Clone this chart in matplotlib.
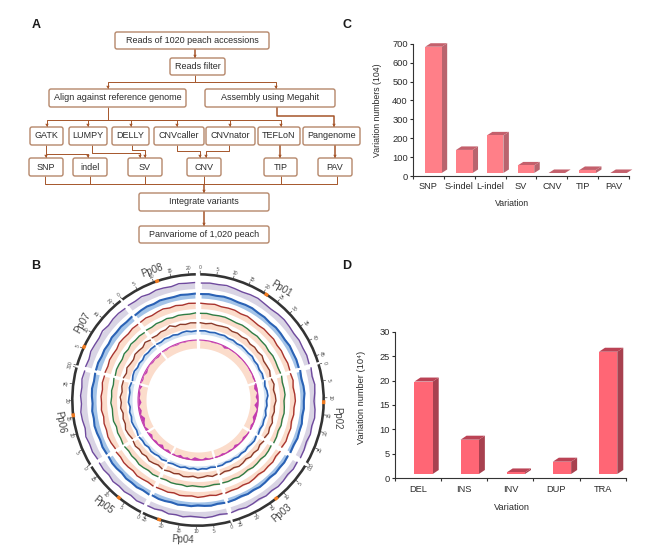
"""Panvariome figure: workflow (A), circos rings (B), variant counts (C, D)."""
import numpy as np
import matplotlib
matplotlib.use('Agg')
import matplotlib.pyplot as plt
from matplotlib.patches import FancyBboxPatch, Polygon

plt.rcParams['font.family'] = ['Liberation Sans', 'DejaVu Sans']
W, H = 650, 559
TXT = '#2b2b2b'

# panel C
C_CATS = ['SNP', 'S-indel', 'L-indel', 'SV', 'CNV', 'TIP', 'PAV']
C_VALS = [684, 138, 215, 56, 16, 32, 16]
C_TICKS = [0, 100, 200, 300, 400, 500, 600, 700]

# panel D
D_CATS = ['DEL', 'INS', 'INV', 'DUP', 'TRA']
D_VALS = [19.8, 7.9, 1.2, 3.4, 25.9]
D_TICKS = [0, 5, 10, 15, 20, 25, 30]

# panel B: chromosomes, sector span in degrees clockwise from north, centromere
CHR_NAMES = ['Pp01', 'Pp02', 'Pp03', 'Pp04', 'Pp05', 'Pp06', 'Pp07', 'Pp08']
CHR_MB = [47, 30, 27, 26, 18, 30, 22, 22]
CHR_START = [1, 73.5, 121.5, 165, 207, 239, 286, 323]
CHR_END = [72.5, 120, 164, 206, 238, 285, 322, 359]
CHR_CENTRO = [33, 91, 141.5, 198, 219, 263, 295, 341]

# panel B tracks: deviation from ring radius, one list per chromosome
PURPLE = [
    [0, .5, .2, 1, .3, -.3, .6, 1, 0, -.5, .4, .8, .2, -.4, .5, 0, .6, -.2],
    [.5, -.5, .8, 0, -1, .4, 1, -.3, .5, -.8, .2, .6],
    [0, .7, -.4, .5, 1, -.2, .6, -.6, .3, .9, -.3, .4],
    [.4, -.6, .5, 1, 0, -.5, .8, -.2, .6, -.9, .3, .1],
    [.3, 1, -.4, .6, -.2, .8, -.6, .4, 0],
    [-.5, .6, 0, 1, -.7, .3, .8, -.4, .5, -.2, .9, 0],
    [.2, -.6, .7, .1, -.3, .9, -.5, .4, .6, 0],
    [.5, 0, .8, -.4, .6, .2, -.5, .9, .3, .5],
]
BLUE_A = [
    [0, .4, -.2, .5, .2, -.4, .3, .6, -.1, .2, -.5, .4, .1, -.3, .5, 0, .3, -.2],
    [.3, -.5, .4, .7, -.2, .2, -.6, .5, 0, .6, -.3, .2],
    [-.2, .5, 0, .6, -.4, .3, .7, -.3, .4, -.5, .2, .4],
    [.2, -.4, .5, .1, -.6, .4, 0, .6, -.3, .3, .5, -.2],
    [.4, -.3, .6, 0, .5, -.5, .3, .6, -.1],
    [0, .5, -.4, .3, .7, -.2, .4, -.5, .2, .6, -.3, .2],
    [.3, .6, -.3, .2, -.5, .5, 0, .4, -.2, .3],
    [-.4, .2, .5, -.3, .6, .1, -.2, .5, 0, .4],
]
RED = [
    [.3, 0, .6, -.4, .2, .5, -.3, .7, 0, -.5, .4, .1, .6, -.4, .3, -.2, .5, 0],
    [-.3, .6, -.6, .4, .9, -.2, .3, -.7, .5, 0, .7, -.4],
    [.4, -.5, .7, 0, .5, -.7, .2, .8, -.3, .4, -.1, .6],
    [0, .6, -.5, .3, .9, -.4, .2, .6, -.6, .5, 0, .3],
    [.5, -.4, .2, .8, -.5, .3, .6, -.3, .4],
    [-.6, .4, .8, -.2, .3, -.7, .6, 0, .5, -.4, .7, .1],
    [.4, -.3, .6, 0, -.6, .7, .2, -.4, .5, .1],
    [.2, .7, -.3, .4, 1, -.2, .5, -.4, .6, .3],
]
GREEN = [
    [.2, .5, -.2, .3, .6, 0, -.4, .4, .2, -.3, .5, 0, .3, -.5, .4, .1, -.3, .2],
    [.4, -.4, .3, .7, -.5, .1, .6, -.2, .4, -.6, .3, .5],
    [-.3, .4, .7, -.4, .2, .5, -.6, .3, .8, -.2, .4, 0],
    [.3, -.5, .2, .6, 0, -.6, .7, -.2, .3, .5, -.4, .2],
    [0, .6, -.4, .4, .8, -.3, .2, -.5, .4],
    [.5, -.2, .3, -.7, .6, .1, -.4, .7, -.1, .4, -.5, .3],
    [-.2, .5, .1, -.5, .6, -.3, .8, 0, .3, -.4],
    [.3, -.3, .5, 0, .7, -.4, .4, .1, -.2, .6],
]
BROWN = [
    [.3, -.3, .8, 0, .5, 1, -.4, .6, -.2, 1, -.6, .4, -.3, .9, -.7, -.2, .5, -1],
    [-.6, .7, -.9, .4, 1, -.5, .2, -1, .8, -.3, .9, -.5],
    [.5, -.7, .9, -.3, .6, -1, .4, 1, -.5, .2, -.8, .6],
    [-.4, .8, -.7, .3, 1, -.6, .5, .9, -.8, .4, -.2, .7],
    [.6, -.8, .3, 1, -.6, .5, -.4, .8, -.2],
    [-.8, .5, 1.2, -.5, .2, -1, .8, -.3, .9, -.7, .4, .1],
    [.7, -.6, 1, -.3, -.9, .8, .1, -.7, 1.2, -.4],
    [.2, -.5, .6, .3, 2.4, -.2, .7, -.4, .5, .2],
]
BLUE_B = [
    [.2, .5, -.3, .4, 0, .6, -.4, .3, -.6, .5, .1, -.3, .6, -.5, .2, -.7, .4, -.2],
    [.4, -.7, .6, 1, -.5, .2, -.8, .7, -.2, .5, -.6, .3],
    [-.5, .6, .1, -.6, .5, -.3, .7, -.4, .3, -.7, .5, .2],
    [.3, -.6, .5, -.2, .8, -.5, .4, -.7, .6, .1, -.4, .5],
    [-.3, .7, -.5, .3, .6, -.7, .4, -.2, .5],
    [.5, -.6, .2, .8, -.4, .4, -.8, .6, 0, -.5, .7, -.2],
    [-.6, .5, .9, -.4, .2, -.7, .6, -.2, .4, .1],
    [.3, -.4, .6, -.1, .5, -.6, .4, .8, -.3, .2],
]
MAGENTA = [
    [0, -.3, .1, -.7, -.2, 0, -2, -.2, -.5, .1, -.8, -.3, -.6, 0, -1, -.4, -1.4, -.3],
    [-2, -3.2, -.8, -2.8, -1, -4, -.6, -2.2, -3.4, -.9, -2.4, -.8],
    [-.4, -1.5, -2.4, -.5, -1, -2.8, -.6, -1.8, -.3, -2.2, -.9, -1.4],
    [-1.2, -.5, -2.6, -.8, -2, -3.2, -.6, -2.2, -1, -2.8, -.7, -1.6],
    [-.7, -2.4, -.5, -3.2, -1, -1.8, -.4, -2.6, -.8],
    [-2.6, -.7, -1.8, -3.8, -.9, -2.4, -.5, -3, -1.1, -1.6, -.5, -2.2],
    [-.3, -1.2, -.3, -1.8, -.6, -.2, -1.1, -.5, -1.4, -.3],
    [-.2, -.7, 0, -.5, -1, -.1, -.6, 0, -.3, -.1],
]
# values, ring radius, band depth, line width, line colour, band colour
TRACKS = [
    (PURPLE, 117, 5.5, 1.0, '#6f4a9e', '#d9d4e4'),
    (BLUE_A, 106, 4, 1.5, '#2a62b5', '#a4c4e8'),
    (RED, 96.5, 5, 1.0, '#a9342e', '#fbdccb'),
    (GREEN, 86.5, 5, 1.0, '#2f7d45', '#fbdccb'),
    (BROWN, 77, 5, 1.0, '#8a3a2a', '#fbdccb'),
    (BLUE_B, 69, 3, 1.2, '#2a62b5', '#cfe0f2'),
    (MAGENTA, 60, 8, 0.8, '#c23cb0', '#fbdccb'),
]
CHR_LABEL_POS = [(281, 289, -32), (337, 418, -90), (282, 513, 40), (183, 540, -3),
                 (103, 505, -38), (60, 422, -80), (83, 323, 60), (152, 270, 20)]

# panel A
LINE = '#a5552a'
BOXES = [
    ('Reads of 1020 peach accessions', 115, 269, 32, 49),
    ('Reads filter', 170, 225, 58, 75),
    ('Align against reference genome', 49, 186, 89, 107),
    ('Assembly using Megahit', 205, 335, 89, 107),
    ('GATK', 30, 63, 127, 145), ('LUMPY', 69, 107, 127, 145),
    ('DELLY', 112, 149, 127, 145), ('CNVcaller', 154, 204, 127, 145),
    ('CNVnator', 206, 255, 127, 145), ('TEFLoN', 258, 300, 127, 145),
    ('Pangenome', 303, 360, 127, 145),
    ('SNP', 29, 63, 158, 176), ('indel', 73, 107, 158, 176),
    ('SV', 128, 162, 158, 176), ('CNV', 187, 221, 158, 176),
    ('TIP', 264, 297, 158, 176), ('PAV', 318, 352, 158, 176),
    ('Integrate variants', 139, 269, 193, 211),
    ('Panvariome of 1,020 peach', 139, 269, 226, 243),
]
PATHS = [
    [(108, 107), (108, 120), (47, 120), (47, 127)], [(108, 120), (88, 120), (88, 127)],
    [(108, 120), (131, 120), (131, 127)], [(108, 120), (177, 120), (177, 127)],
    [(108, 120), (230, 120), (230, 127)], [(108, 120), (281, 120), (281, 127)],
    [(195, 75), (195, 82), (108, 82), (108, 89)], [(195, 82), (276, 82), (276, 89)],
    [(46, 145), (46, 158)], [(46, 154), (88, 154), (88, 158)],
    [(92, 145), (92, 153), (140, 153), (140, 158)], [(132, 145), (132, 150), (145, 150), (145, 158)],
    [(177, 145), (177, 151), (200, 151), (200, 158)], [(229, 145), (229, 151), (206, 151), (206, 158)],
]
THICK_PATHS = [
    [(195, 49), (195, 58)], [(277, 107), (277, 116), (334, 116), (334, 127)],
    [(280, 145), (280, 158)], [(335, 145), (335, 158)],
    [(204, 184), (204, 193)], [(204, 211), (204, 226)],
]
BUS = [[(45, 176), (45, 184), (337, 184), (337, 176)], [(90, 176), (90, 184)],
       [(145, 176), (145, 184)], [(204, 176), (204, 184)], [(281, 176), (281, 184)]]


def px_axes(fig, left, right, top, bottom, **kw):
    return fig.add_axes([left / W, 1 - bottom / H, (right - left) / W, (bottom - top) / H], **kw)


def draw_path(ax, pts, lw, arrow=True):
    xs, ys = zip(*pts)
    ax.plot(xs, ys, color=LINE, lw=lw, solid_capstyle='butt', zorder=1)
    if arrow:
        x, y = pts[-1]
        ax.add_patch(Polygon([(x - 1.7, y - 3.2), (x + 1.7, y - 3.2), (x, y)], fc=LINE, ec='none', zorder=1))


def panel_a(ax):
    for label, x0, x1, y0, y1 in BOXES:
        ax.add_patch(FancyBboxPatch((x0 + 2, y0 + 2), x1 - x0 - 4, y1 - y0 - 4, boxstyle='round,pad=2,rounding_size=2',
                                    fc='white', ec='#b5876a', lw=1.0, zorder=2))
        ax.text((x0 + x1) / 2, (y0 + y1) / 2, label, ha='center', va='center', fontsize=6.5, color=TXT, zorder=3)
    for p in PATHS:
        draw_path(ax, p, 0.7)
    for p in THICK_PATHS:
        draw_path(ax, p, 1.1)
    for p in BUS:
        draw_path(ax, p, 0.7, arrow=False)


def panel_b(fig, bg):
    # polar axes in pixel radius, centred on the rings
    cx, cy, rmax = 198, 400, 140
    ax = px_axes(fig, cx - rmax, cx + rmax, cy - rmax, cy + rmax, projection='polar')
    ax.set_theta_zero_location('N')
    ax.set_theta_direction(-1)
    ax.set_rlim(0, rmax)
    ax.axis('off')
    ax.patch.set_alpha(0)

    for i, name in enumerate(CHR_NAMES):
        t0, t1 = CHR_START[i], CHR_END[i]
        th0, th1 = np.radians([t0, t1])
        ax.bar((th0 + th1) / 2, 2.6, width=th1 - th0, bottom=124.4, color='#333333', lw=0)
        c = np.radians(CHR_CENTRO[i])
        ax.bar(c, 3.4, width=np.radians(1.8), bottom=124, color='#f07a20', lw=0, zorder=3)

        for mb in range(0, CHR_MB[i] + 1, 5):
            t = t0 + (t1 - t0) * mb / CHR_MB[i]
            ax.plot(np.radians([t, t]), [127, 129], color='#444444', lw=0.5)
            ax.text(np.radians(t), 132, str(mb), fontsize=3.6, color='#4a4a4a', rotation=-t if t < 90 or t > 270 else 180 - t,
                    ha='center', va='center', rotation_mode='anchor')

        x, y, rot = CHR_LABEL_POS[i]
        bg.text(x, y, name, fontsize=7, color='#444444', ha='center', va='center', rotation=rot)

        for vals, r0, band, lw, col, shade in TRACKS:
            v = np.asarray(vals[i], dtype=float)
            th = np.radians(np.linspace(t0 + 0.7, t1 - 0.7, len(v)))
            ax.fill_between(th, r0 - band, r0 + 0.4, color=shade, lw=0, zorder=1)
            if vals is MAGENTA:
                ax.fill_between(th, r0, r0 + v, color=col, lw=0, zorder=2)
                ax.plot(th, r0 + np.zeros_like(v), color=col, lw=lw, zorder=2)
            else:
                ax.plot(th, r0 + v, color=col, lw=lw, zorder=2)


def bars_3d(ax, vals, width, depth, rise, lift, shift, px_per_x, px_per_y, front, side, top):
    dx, dy = depth / px_per_x, rise / px_per_y
    sh, w, base = shift / px_per_x, width / px_per_x, lift / px_per_y
    centres = np.arange(len(vals)) + 0.5 + sh
    heights = np.maximum(np.asarray(vals, dtype=float) - base, 0)
    ax.bar(centres, heights, bottom=base, width=w, color=front, lw=0, zorder=3)
    for c, v in zip(centres, vals):
        x0, x1 = c - w / 2, c + w / 2
        v = max(v, base)
        ax.fill([x1, x1 + dx, x1 + dx, x1], [base, base + dy, v + dy, v], color=side, lw=0, zorder=2, clip_on=False)
        ax.fill([x0, x0 + dx, x1 + dx, x1], [v, v + dy, v + dy, v], color=top, lw=0, zorder=2, clip_on=False)


def bar_panel(fig, box, cats, vals, ticks, bar_kw):
    left, right, top, bottom = box
    ax = px_axes(fig, left, right, top, bottom)
    ax.patch.set_alpha(0)
    n = len(cats)
    ax.set_xlim(0, n)
    ax.set_ylim(0, ticks[-1])
    bars_3d(ax, vals, px_per_x=(right - left) / n, px_per_y=(bottom - top) / ticks[-1], **bar_kw)
    ax.set_yticks(ticks)
    ax.set_xticks(range(n + 1))
    ax.set_xticklabels([])
    ax.set_xticks(np.arange(n) + 0.5, cats, minor=True)
    ax.tick_params(axis='x', which='minor', length=0, labelsize=6.7, pad=4.5, colors=TXT)
    ax.tick_params(axis='x', which='major', length=2.2, width=0.8, color='#333333')
    ax.tick_params(axis='y', length=2.2, width=0.8, labelsize=6.7, pad=1.5, colors=TXT)
    for s in ('top', 'right'):
        ax.spines[s].set_visible(False)
    for s in ('left', 'bottom'):
        ax.spines[s].set_linewidth(0.8)
        ax.spines[s].set_color('#333333')
    return ax


def main():
    fig = plt.figure(figsize=(W / 100, H / 100), dpi=100)
    bg = fig.add_axes([0, 0, 1, 1])
    bg.set_xlim(0, W)
    bg.set_ylim(H, 0)
    bg.axis('off')

    panel_a(bg)
    panel_b(fig, bg)

    bar_panel(fig, (413, 629, 43.7, 176), C_CATS, C_VALS, C_TICKS,
              dict(width=16.5, depth=5.5, rise=3.5, lift=3, shift=5, front='#ff7f88', side='#b9646e', top='#c4606c'))
    bar_panel(fig, (395, 625.7, 331.7, 478.3), D_CATS, D_VALS, D_TICKS,
              dict(width=18.3, depth=6, rise=4, lift=4.3, shift=5.5, front='#ff6675', side='#a8414f', top='#bb4355'))

    bg.text(378, 110, 'Variation numbers (104)', rotation=90, ha='center', va='center', fontsize=6.3, color=TXT)
    bg.text(512, 203, 'Variation', ha='center', va='center', fontsize=6.3, color=TXT)
    bg.text(362, 397, 'Variation number (10⁴)', rotation=90, ha='center', va='center', fontsize=6.7, color=TXT)
    bg.text(512, 507, 'Variation', ha='center', va='center', fontsize=6.7, color=TXT)

    for letter, x, y in [('A', 36, 25), ('C', 347, 25), ('B', 36, 266), ('D', 347, 266)]:
        bg.text(x, y, letter, fontsize=9, fontweight='bold', ha='center', va='center', color='#1a1a1a')

    fig.savefig('out.png', dpi=100)
    plt.close(fig)


if __name__ == '__main__':
    main()
